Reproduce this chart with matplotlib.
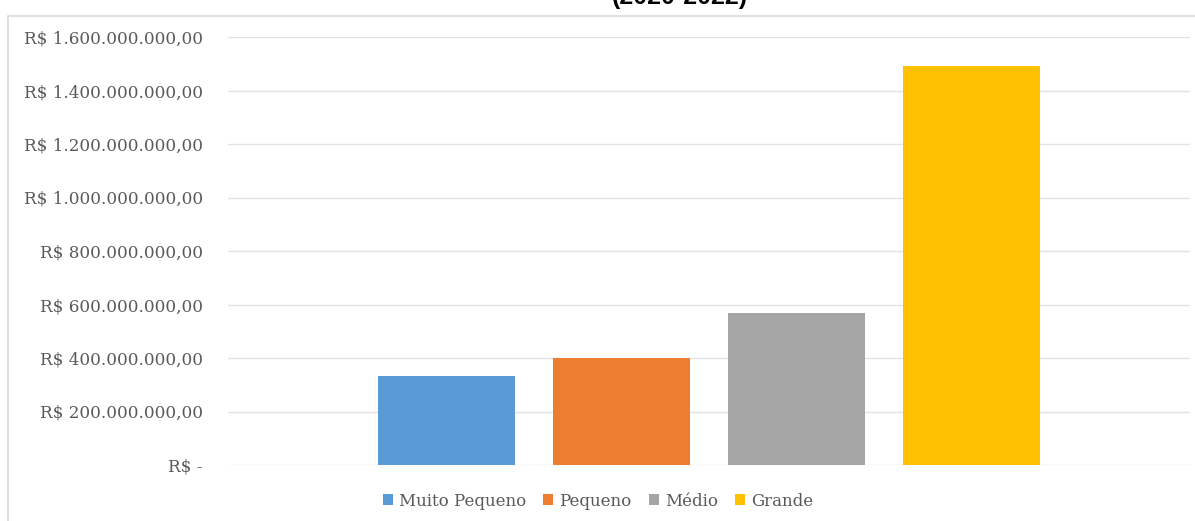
import matplotlib.pyplot as plt
from matplotlib.patches import Rectangle
from matplotlib.ticker import FuncFormatter

categorias = ["Muito Pequeno", "Pequeno", "Médio", "Grande"]
valores = [333_000_000, 400_000_000, 568_000_000, 1_492_000_000]
cores = ["#5b9bd5", "#ed7d31", "#a5a5a5", "#ffc000"]
ticks = [0, 200e6, 400e6, 600e6, 800e6, 1000e6, 1200e6, 1400e6, 1600e6]


def reais(v, pos):
    if v == 0:
        return "R$ -"
    s = f"{v:,.2f}".replace(",", "X").replace(".", ",").replace("X", ".")
    return "R$ " + s


W, H = 1195, 521
fig = plt.figure(figsize=(W / 100, H / 100), dpi=100)

# chart frame
fig.patches.append(Rectangle((8 / W, -0.01), 1.0, (H - 16) / H + 0.01,
                             transform=fig.transFigure, fill=False,
                             edgecolor="#d9d9d9", linewidth=1.2))

ax = fig.add_axes([228 / W, 56 / H, (1190 - 228) / W, (465 - 37) / H])
for i, (c, v, cor) in enumerate(zip(categorias, valores, cores)):
    ax.bar(i, v, width=0.78, color=cor, label=c, zorder=3)

ax.set_xlim(-1.249, 4.249)
ax.set_ylim(0, 1.6e9)
ax.set_yticks(ticks)
ax.yaxis.set_major_formatter(FuncFormatter(reais))
ax.set_xticks([])
ax.grid(axis="y", color="#e3e3e3", linewidth=1, zorder=0)
for s in ax.spines.values():
    s.set_visible(False)
ax.tick_params(axis="y", length=0, pad=18, labelsize=12.1, labelcolor="#595959")
for lbl in ax.get_yticklabels():
    lbl.set_family("DejaVu Serif")

leg = fig.legend(loc="center", bbox_to_anchor=(598 / W, 1 - 501 / H), ncol=4,
                 frameon=False, handlelength=0.6, handleheight=0.6,
                 handletextpad=0.35, columnspacing=1.05,
                 prop={"family": "DejaVu Serif", "size": 12})
for t in leg.get_texts():
    t.set_color("#595959")

fig.text(680 / W, 1 - 4 / H, "(2020-2022)", ha="center", va="baseline",
         fontsize=18, fontweight="bold", family="Liberation Sans")

fig.savefig("out.png", dpi=100)
